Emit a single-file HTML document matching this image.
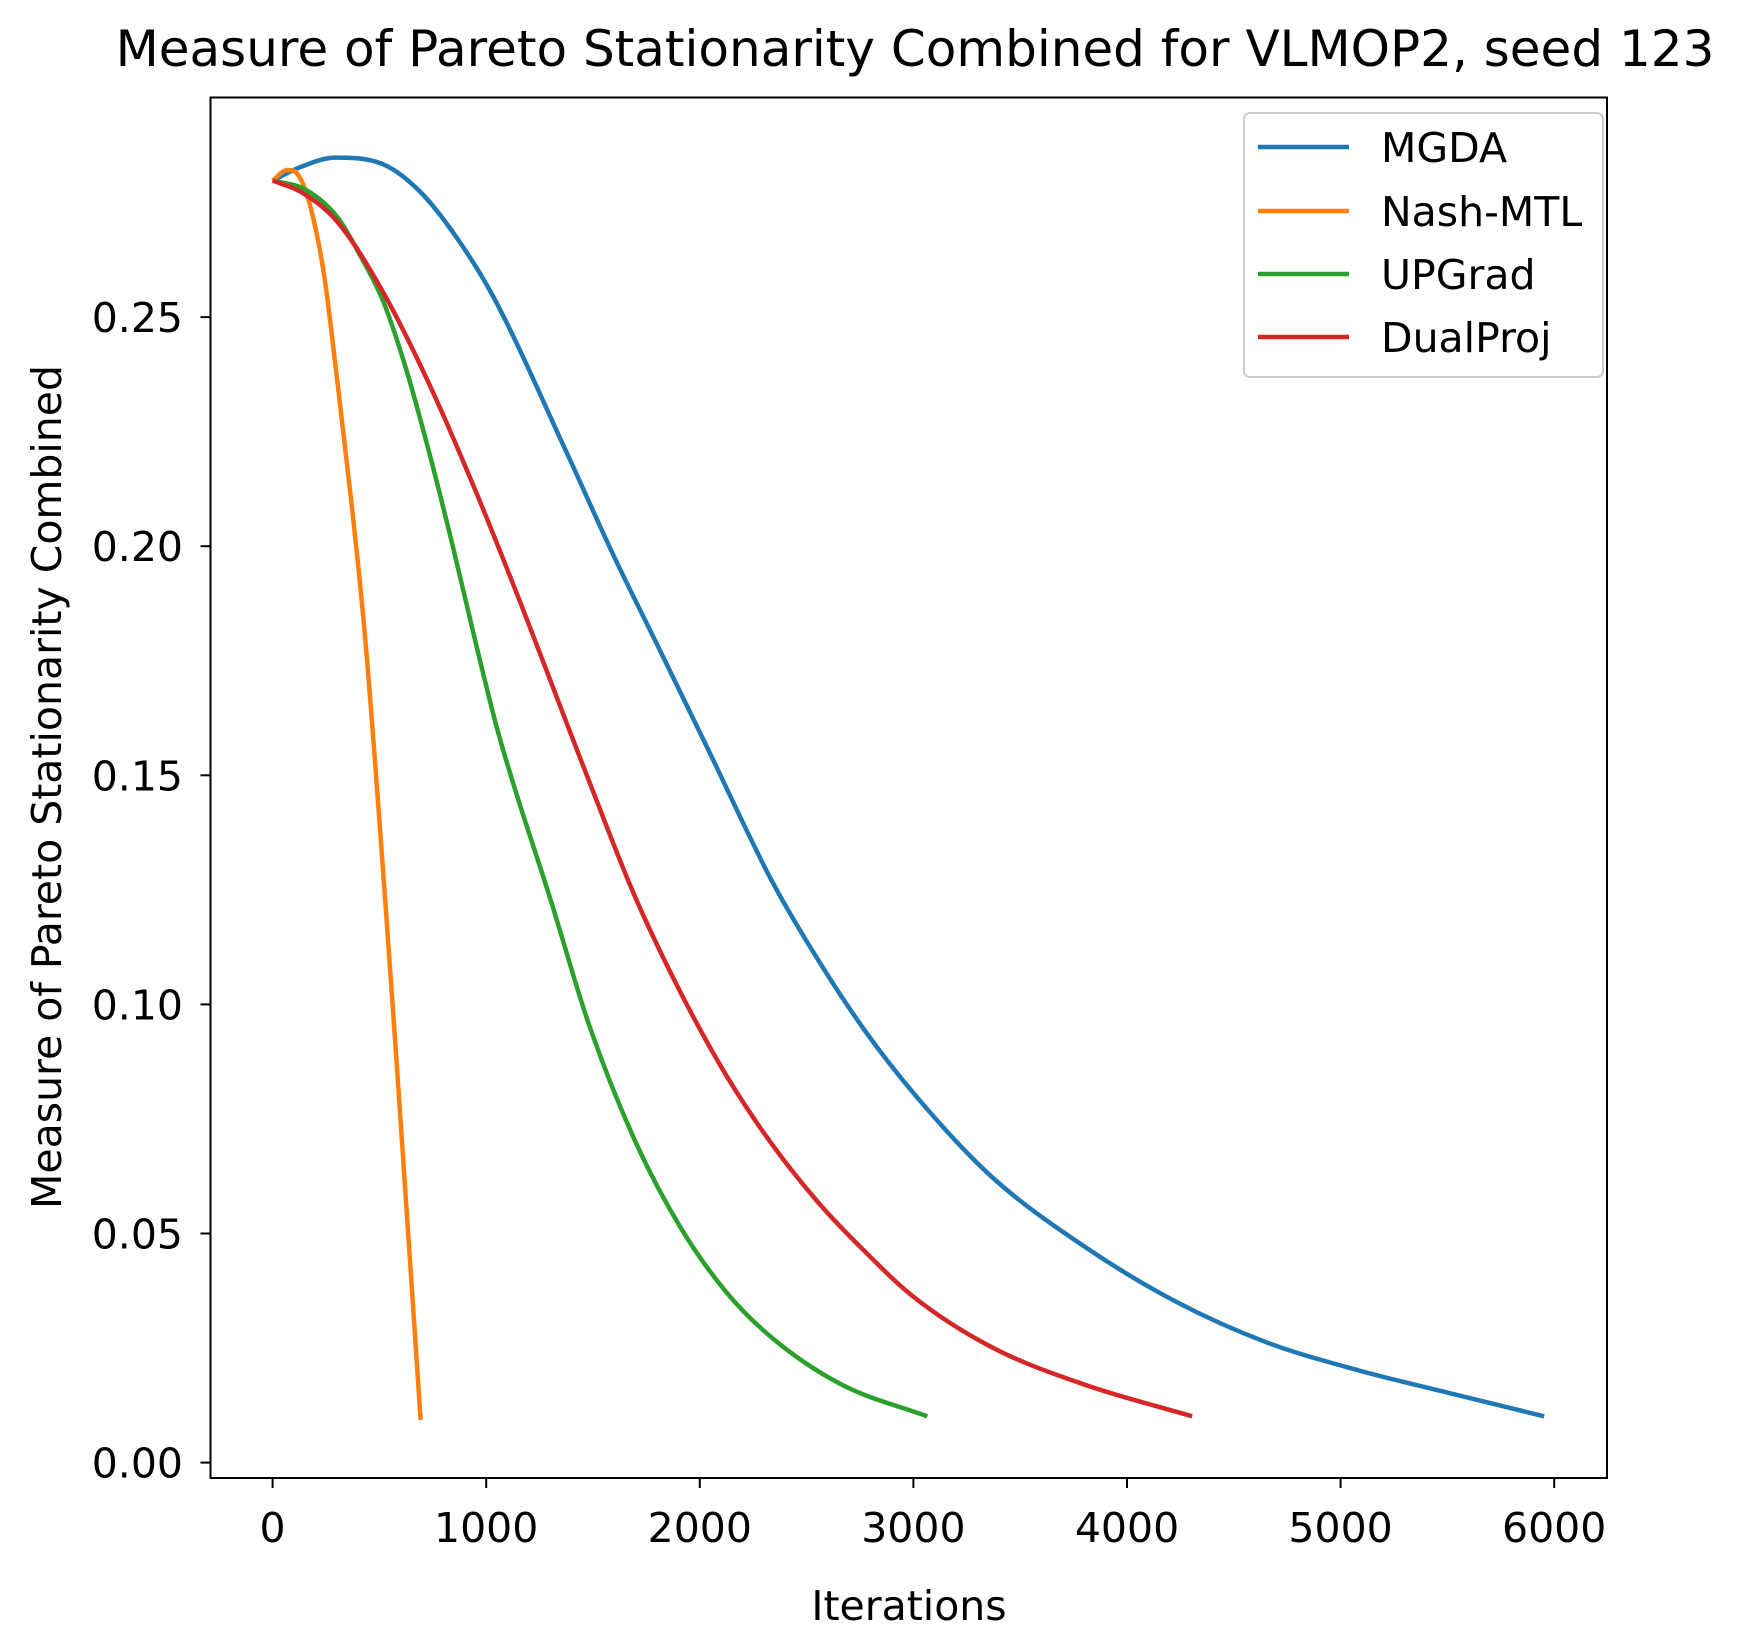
<!DOCTYPE html>
<html><head><meta charset="utf-8"><style>
body{margin:0;background:#fff}
text{font-family:"DejaVu Sans","Liberation Sans",sans-serif;fill:#000}
</style></head><body>
<svg id="chart" width="1737" height="1638" viewBox="0 0 1737 1638" xmlns="http://www.w3.org/2000/svg">
<rect width="1737" height="1638" fill="#fff"/>
<text x="915" y="66" font-size="50" text-anchor="middle">Measure of Pareto Stationarity Combined for VLMOP2, seed 123</text>
<g id="plot"></g>
<rect x="210.5" y="97.5" width="1396.5" height="1380.5" fill="none" stroke="#000" stroke-width="2"/>
<text x="909" y="1620" font-size="41" text-anchor="middle">Iterations</text>
<text transform="translate(61,787) rotate(-90)" font-size="41" text-anchor="middle">Measure of Pareto Stationarity Combined</text>
<g id="legend">
<rect x="1244" y="113" width="359" height="264" rx="6" fill="#fff" stroke="#ccc" stroke-width="2"/>
</g>
</svg>
<script>
const xTicks=[0,1000,2000,3000,4000,5000,6000];
const yTicks=[0,0.05,0.10,0.15,0.20,0.25];
const seriesNames=["MGDA","Nash-MTL","UPGrad","DualProj"];
const seriesColors=["#1f77b4","#ff7f0e","#2ca02c","#d62728"];
const mgdaX=[0,133,294,520,692,864,1036,1380,1595,1810,2025,2339,2554,2768,3021,3366,3796,4226,4656,5086,5516,5953];
const mgdaY=[0.2798,0.2828,0.2848,0.2833,0.2773,0.2672,0.2542,0.2201,0.1981,0.1776,0.1570,0.1268,0.1097,0.0946,0.0795,0.0624,0.0473,0.0352,0.0262,0.0201,0.0151,0.0101];
const nashX=[0,69,123,176,241,305,370,435,579,693];
const nashY=[0.2798,0.2821,0.2808,0.2743,0.2592,0.2352,0.2091,0.1791,0.0885,0.0093];
const upgX=[0,155,305,413,520,628,735,843,950,1058,1309,1481,1695,1910,2124,2339,2661,3065];
const upgY=[0.2798,0.2778,0.2717,0.2632,0.2532,0.2382,0.2201,0.2001,0.1791,0.1590,0.1217,0.0956,0.0704,0.0513,0.0372,0.0272,0.0171,0.0101];
const dpX=[0,133,305,520,735,950,1165,1380,1500,1695,1910,2124,2339,2554,2768,3000,3366,3796,4305];
const dpY=[0.2798,0.2773,0.2707,0.2552,0.2352,0.2121,0.1871,0.1610,0.1465,0.1237,0.1026,0.0845,0.0694,0.0568,0.0463,0.0362,0.0252,0.0171,0.0101];
const allX=[mgdaX,nashX,upgX,dpX], allY=[mgdaY,nashY,upgY,dpY];
const sx=v=>272.6+v*0.2136;
const sy=v=>1462.6-v*4582;
const NS="http://www.w3.org/2000/svg";
const plot=document.getElementById('plot');
const svg=document.getElementById('chart');
function mk(t,a,p){const e=document.createElementNS(NS,t);for(const k in a)e.setAttribute(k,a[k]);(p||svg).appendChild(e);return e;}
xTicks.forEach(v=>{
 const l=mk('line',{x1:sx(v),x2:sx(v),y1:1478,y2:1488,stroke:'#000','stroke-width':2});
 
 
 const t=mk('text',{x:sx(v),y:1542,'font-size':41,'text-anchor':'middle'});t.textContent=String(v);
 
 
});
yTicks.forEach(v=>{
 const l=mk('line',{x1:200.5,x2:210.5,y1:sy(v),y2:sy(v),stroke:'#000','stroke-width':2});
 
 
 const t=mk('text',{x:183,y:sy(v)+15,'font-size':41,'text-anchor':'end'});t.textContent=v.toFixed(2);
 
 
});
function monotone(xs,ys){
 const n=xs.length,d=[],m=new Array(n);
 for(let i=0;i<n-1;i++)d.push((ys[i+1]-ys[i])/(xs[i+1]-xs[i]));
 m[0]=d[0];m[n-1]=d[n-2];
 for(let i=1;i<n-1;i++)m[i]=(d[i-1]*d[i]<=0)?0:(d[i-1]+d[i])/2;
 for(let i=0;i<n-1;i++){if(d[i]===0){m[i]=m[i+1]=0;continue;}const a=m[i]/d[i],b=m[i+1]/d[i],s=a*a+b*b;if(s>9){const t=3/Math.sqrt(s);m[i]=t*a*d[i];m[i+1]=t*b*d[i];}}
 let p='M'+sx(xs[0])+','+sy(ys[0]);
 for(let i=0;i<n-1;i++){const h=(xs[i+1]-xs[i])/3;
  p+=' C'+sx(xs[i]+h)+','+sy(ys[i]+m[i]*h)+' '+sx(xs[i+1]-h)+','+sy(ys[i+1]-m[i+1]*h)+' '+sx(xs[i+1])+','+sy(ys[i+1]);}
 return p;
}
[0,1,2,3].forEach(i=>{
 const s=mk('path',{d:monotone(allX[i],allY[i]),fill:'none',stroke:seriesColors[i],'stroke-width':4.5,'stroke-linecap':'butt'},plot);
 
 
});
const lg=document.getElementById('legend');
const legendY=[147,211,274,337];
seriesNames.forEach((n,i)=>{
 const y=legendY[i];
 const l=mk('line',{x1:1258,x2:1349,y1:y,y2:y,stroke:seriesColors[i],'stroke-width':4.5},lg);
 
 
 const t=mk('text',{x:1381,y:y+15,'font-size':41},lg);t.textContent=n;
 
 
});
</script>
</body></html>
